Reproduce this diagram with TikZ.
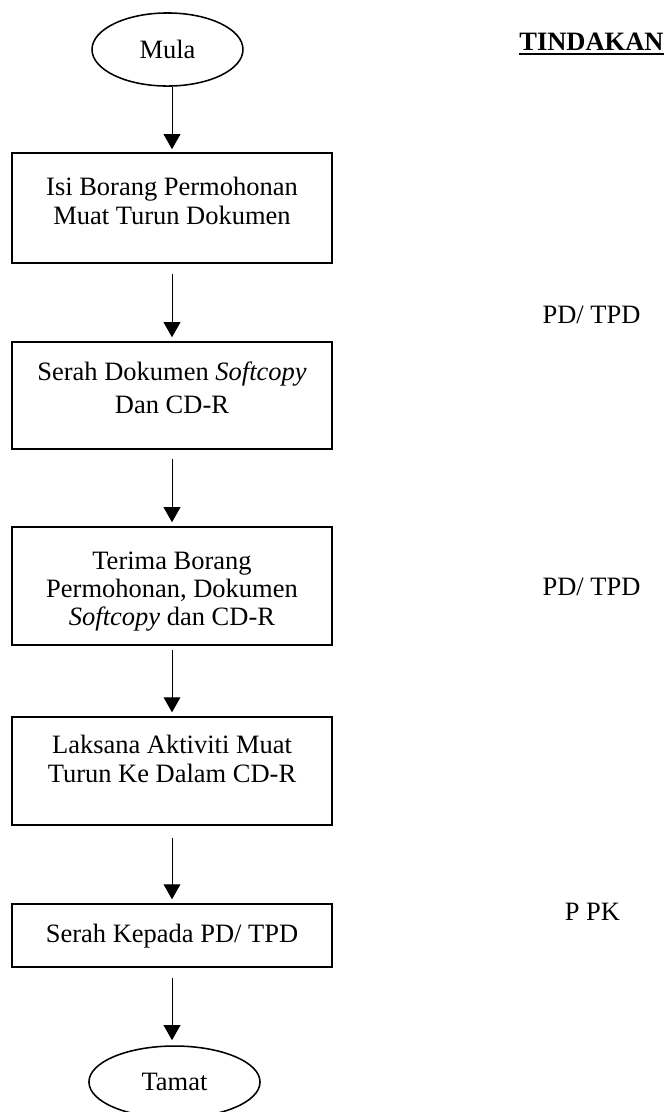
\documentclass[tikz,border=0pt]{standalone}
\usepackage{fontspec}
\setmainfont{Liberation Serif}
\usetikzlibrary{shapes.geometric,arrows.meta}
\begin{document}
\begin{tikzpicture}[x=0.453pt,y=-0.453pt,
  boxnode/.style={draw,line width=0.7pt,rectangle,inner sep=0pt,minimum width=145pt},
  endnode/.style={draw,line width=0.7pt,ellipse,inner sep=0pt,font=\fontsize{12pt}{14pt}\selectfont},
  txt/.style={align=center,inner sep=0pt,font=\fontsize{12pt}{#1}\selectfont},
  lbl/.style={inner sep=0pt,anchor=base,font=\fontsize{12pt}{14pt}\selectfont},
  arr/.style={line width=0.45pt,-{Triangle[length=6.8pt,width=7.6pt]}}]
\useasboundingbox (0,0) rectangle (667,1112);
% start / end
\node[endnode,minimum width=68.4pt,minimum height=33.1pt] (mula) at (167.5,49.5) {Mula};
\node[endnode,minimum width=77.5pt,minimum height=32.6pt] (tamat) at (174.5,1082) {Tamat};
% boxes
\node[boxnode,minimum height=49.8pt] (b1) at (172,208) {};
\node[boxnode,minimum height=48.5pt] (b2) at (172,395.5) {};
\node[boxnode,minimum height=53.5pt] (b3) at (172,586) {};
\node[boxnode,minimum height=48.9pt] (b4) at (172,771) {};
\node[boxnode,minimum height=28.5pt] (b5) at (172,935.5) {};
% box texts
\node[txt=11.78pt] (t1) at (172,204.8) {\strut Isi Borang Permohonan\\\strut Muat Turun Dokumen};
\node[txt=14.95pt] (t2) at (172,389.9) {\strut Serah Dokumen \textit{Softcopy}\\\strut Dan CD-R};
\node[txt=11.55pt] (t3) at (172,592.4) {\strut Terima Borang\\\strut Permohonan, Dokumen\\\strut \textit{Softcopy} dan CD-R};
\node[txt=11.78pt] (t4) at (172,762.8) {\strut Laksana Aktiviti Muat\\\strut Turun Ke Dalam CD-R};
\node[lbl] (t5) at (172,942) {Serah Kepada PD/ TPD};
% right column
\node[lbl,font=\fontsize{12pt}{14pt}\selectfont\bfseries] (tind) at (591.5,50) {TINDAKAN};
\draw[line width=0.9pt] ([yshift=-1.6pt]tind.base west) -- ([yshift=-1.6pt]tind.base east);
\node[lbl] (r1) at (591.5,323) {PD/ TPD};
\node[lbl] (r2) at (591.5,595) {PD/ TPD};
\node[lbl] (r3) at (592.5,920) {P PK};
% connectors
\draw[arr,shorten >=1.4pt] (mula.south -| b1.north) -- (b1.north);
\draw[arr,shorten <=4.5pt,shorten >=1.8pt] (b1.south) -- (b2.north);
\draw[arr,shorten <=4.1pt,shorten >=1.8pt] (b2.south) -- (b3.north);
\draw[arr,shorten <=1.8pt,shorten >=1.8pt] (b3.south) -- (b4.north);
\draw[arr,shorten <=5.4pt,shorten >=1.8pt] (b4.south) -- (b5.north);
\draw[arr,shorten <=4.5pt,shorten >=2.3pt] (b5.south) -- (b5.south |- tamat.north);
\end{tikzpicture}
\end{document}
